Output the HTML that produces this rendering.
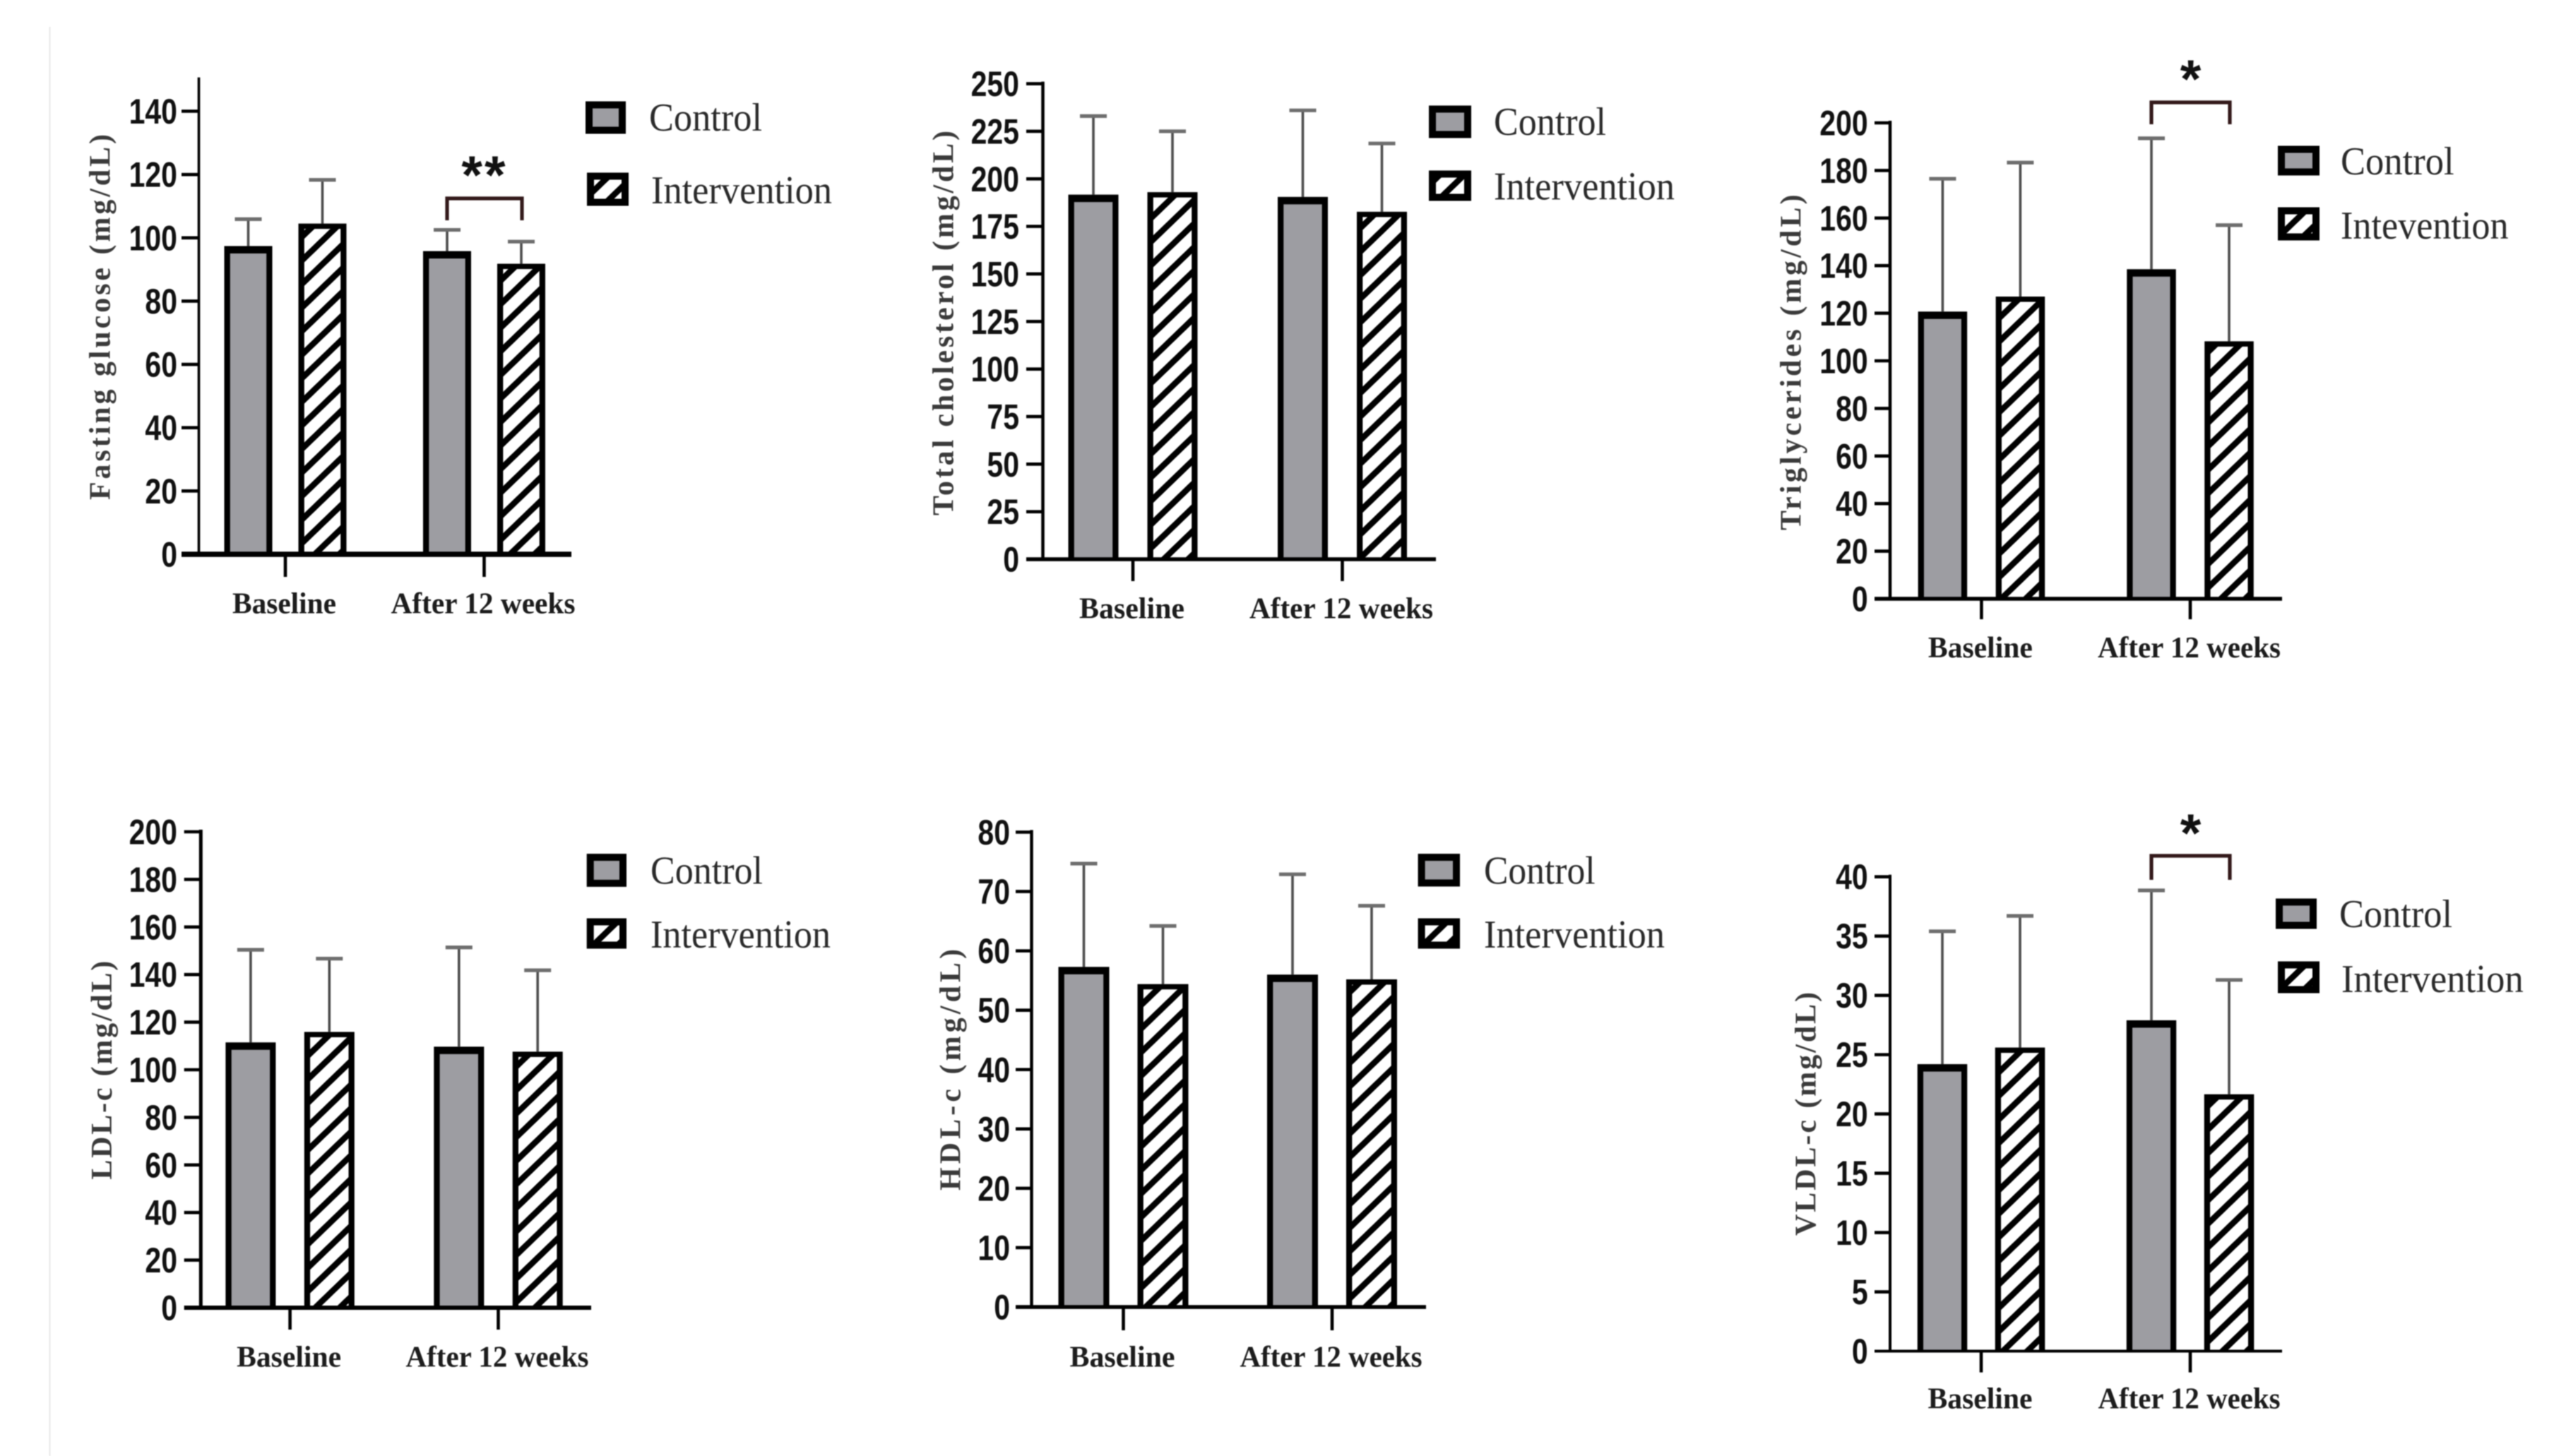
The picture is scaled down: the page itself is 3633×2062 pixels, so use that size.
<!DOCTYPE html>
<html lang="en">
<head>
<meta charset="utf-8">
<title>Biochemical outcomes: control vs intervention</title>
<style>
html,body{margin:0;padding:0;background:#fff;}
#figure{display:block;width:3633px;height:2062px;filter:blur(0.9px);}
</style>
</head>
<body>
<svg id="figure" xmlns="http://www.w3.org/2000/svg" width="3633" height="2062" viewBox="0 0 3633 2062">
  <defs>
    <pattern id="hatch" patternUnits="userSpaceOnUse" width="24" height="24" patternTransform="rotate(46) translate(6 0)">
      <rect x="0" y="0" width="24" height="24" fill="#ffffff"></rect>
      <rect x="0" y="0" width="8.5" height="24" fill="#000000"></rect>
    </pattern>
  </defs>
  <rect x="0" y="0" width="3633" height="2062" fill="#ffffff"></rect>
  <line x1="70.5" y1="38" x2="70.5" y2="2062" stroke="#e2e2e2" stroke-width="1.6"></line>
</svg>
<script>
const timepoints = ['Baseline', 'After 12 weeks'];

const glucoseTicks = [0, 20, 40, 60, 80, 100, 120, 140];
const glucoseControl = [97.4, 95.8];
const glucoseIntervention = [104.5, 91.8];
const glucoseControlUpper = [105.9, 102.5];
const glucoseInterventionUpper = [118.3, 98.8];

const cholesterolTicks = [0, 25, 50, 75, 100, 125, 150, 175, 200, 225, 250];
const cholesterolControl = [191.7, 190.5];
const cholesterolIntervention = [193, 182.7];
const cholesterolControlUpper = [233, 236];
const cholesterolInterventionUpper = [225, 218.6];

const triglycerideTicks = [0, 20, 40, 60, 80, 100, 120, 140, 160, 180, 200];
const triglycerideControl = [120.7, 138.5];
const triglycerideIntervention = [127, 108.2];
const triglycerideControlUpper = [176.5, 193.5];
const triglycerideInterventionUpper = [183.3, 157];

const ldlTicks = [0, 20, 40, 60, 80, 100, 120, 140, 160, 180, 200];
const ldlControl = [111.5, 109.7];
const ldlIntervention = [115.9, 107.6];
const ldlControlUpper = [150.4, 151.4];
const ldlInterventionUpper = [146.7, 141.8];

const hdlTicks = [0, 10, 20, 30, 40, 50, 60, 70, 80];
const hdlControl = [57.3, 56];
const hdlIntervention = [54.4, 55.2];
const hdlControlUpper = [74.7, 72.9];
const hdlInterventionUpper = [64.2, 67.6];

const vldlTicks = [0, 5, 10, 15, 20, 25, 30, 35, 40];
const vldlControl = [24.2, 27.9];
const vldlIntervention = [25.6, 21.66];
const vldlControlUpper = [35.4, 38.85];
const vldlInterventionUpper = [36.7, 31.3];

const panels = [
  { key: 'fasting-glucose', title: 'Fasting glucose (mg/dL)', ticks: glucoseTicks, control: glucoseControl, intervention: glucoseIntervention, controlUpper: glucoseControlUpper, interventionUpper: glucoseInterventionUpper, interventionName: 'Intervention',
    axisX: 281.5, axisW: 3.6, baseY: 785, baseW: 7.5, topTickY: 157.5, axisMaxValue: 150, left: 257, right: 809, groupX: [404, 685.5], offset: 52.5, barW: 68, tickBottom: 817, labelRight: 251, labelBaseline: 868.6, baselineW: 147, afterW: 261,
    titleX: 155.5, titleTop: 190, titleBottom: 708, titleSize: 42,
    legend: { s1: [829, 886, 143, 190], s2: [831, 890, 244, 292], t1: [919, 160, 185], t2: [922, 256, 288] },
    sig: { mark: '**', top: 281, bottom: 312, y: 274 } },
  { key: 'total-cholesterol', title: 'Total cholesterol (mg/dL)', ticks: cholesterolTicks, control: cholesterolControl, intervention: cholesterolIntervention, controlUpper: cholesterolControlUpper, interventionUpper: cholesterolInterventionUpper, interventionName: 'Intervention',
    axisX: 1476.5, axisW: 4.5, baseY: 792, baseW: 5.5, topTickY: 118.6, left: 1453, right: 2033, groupX: [1604, 1900.5], offset: 56, barW: 71, tickBottom: 823, labelRight: 1443, labelBaseline: 875.6, baselineW: 149, afterW: 260,
    titleX: 1349.5, titleTop: 185, titleBottom: 730, titleSize: 42,
    legend: { s1: [2023, 2083, 149, 196], s2: [2023, 2083, 241, 285], t1: [2115, 159, 191], t2: [2115, 256, 282.5] } },
  { key: 'triglycerides', title: 'Triglycerides (mg/dL)', ticks: triglycerideTicks, control: triglycerideControl, intervention: triglycerideIntervention, controlUpper: triglycerideControlUpper, interventionUpper: triglycerideInterventionUpper, interventionName: 'Intevention',
    axisX: 2676, axisW: 4.5, baseY: 848, baseW: 5.5, topTickY: 174, left: 2654, right: 3231, groupX: [2805.4, 3101], offset: 55, barW: 69.5, tickBottom: 877, labelRight: 2644.7, labelBaseline: 931, baselineW: 148, afterW: 259,
    titleX: 2549.6, titleTop: 275.5, titleBottom: 751, titleSize: 42,
    legend: { s1: [3225, 3284, 206, 249], s2: [3225, 3284, 293, 341], t1: [3314, 160.6, 247], t2: [3314, 237.6, 338] },
    sig: { mark: '*', top: 145, bottom: 176, y: 138 } },
  { key: 'ldl-c', title: 'LDL-c (mg/dL)', ticks: ldlTicks, control: ldlControl, intervention: ldlIntervention, controlUpper: ldlControlUpper, interventionUpper: ldlInterventionUpper, interventionName: 'Intervention',
    axisX: 284.3, axisW: 5, baseY: 1852, baseW: 6, topTickY: 1178, left: 260.7, right: 837, groupX: [410.6, 705.5], offset: 55.7, barW: 71, tickBottom: 1883, labelRight: 251, labelBaseline: 1935.6, baselineW: 148, afterW: 259,
    titleX: 158, titleTop: 1360.7, titleBottom: 1670.6, titleSize: 42,
    legend: { s1: [830.7, 887, 1208.6, 1256.4], s2: [830.7, 887, 1300, 1344], t1: [921, 159, 1251.5], t2: [921, 255, 1342] } },
  { key: 'hdl-c', title: 'HDL-c  (mg/dL)', ticks: hdlTicks, control: hdlControl, intervention: hdlIntervention, controlUpper: hdlControlUpper, interventionUpper: hdlInterventionUpper, interventionName: 'Intervention',
    axisX: 1460.5, axisW: 4.5, baseY: 1851, baseW: 5.5, topTickY: 1178.5, left: 1438, right: 2019, groupX: [1590.5, 1886], offset: 56, barW: 72, tickBottom: 1884, labelRight: 1430, labelBaseline: 1935.6, baselineW: 149, afterW: 258,
    titleX: 1359.4, titleTop: 1344, titleBottom: 1686, titleSize: 42,
    legend: { s1: [2007.6, 2067, 1208.6, 1256], s2: [2007.6, 2067, 1300, 1344], t1: [2101, 157.6, 1251.5], t2: [2101, 256, 1342] } },
  { key: 'vldl-c', title: 'VLDL-c (mg/dL)', ticks: vldlTicks, control: vldlControl, intervention: vldlIntervention, controlUpper: vldlControlUpper, interventionUpper: vldlInterventionUpper, interventionName: 'Intervention',
    axisX: 2676, axisW: 4, baseY: 1913.5, baseW: 4, topTickY: 1241.7, left: 2654, right: 3231, groupX: [2805, 3101], offset: 55, barW: 70.5, tickBottom: 1943.6, labelRight: 2644.7, labelBaseline: 1994.5, baselineW: 148, afterW: 258,
    titleX: 2570.7, titleTop: 1405, titleBottom: 1750, titleSize: 42,
    legend: { s1: [3222, 3280, 1272, 1316], s2: [3225, 3284, 1361, 1407], t1: [3312, 160, 1313], t2: [3315, 257.7, 1405] },
    sig: { mark: '*', top: 1212, bottom: 1246, y: 1206 } }
];

const SVG_NS = 'http://www.w3.org/2000/svg';
const root = document.getElementById('figure');
const SANS = '"Liberation Sans", sans-serif';
const SERIF = '"Liberation Serif", serif';

function add(parent, tag, attrs, text) {
  const el = document.createElementNS(SVG_NS, tag);
  for (const k in attrs) el.setAttribute(k, attrs[k]);
  if (text !== undefined) el.textContent = text;
  parent.appendChild(el);
  return el;
}

function drawBar(group, p, seriesName, value, upper, cx, yScale, elName) {
  const w = p.barW;
  const top = yScale(value);
  const side = 8.3;
  const roof = seriesName === 'control' ? 10.5 : 7.5;
  const stem = add(group, 'line', { x1: cx, x2: cx, y1: top, y2: yScale(upper), stroke: '#4d4d4d', 'stroke-width': 3.6 });
  
  
  const cap = add(group, 'line', { x1: cx - 19, x2: cx + 19, y1: yScale(upper), y2: yScale(upper), stroke: '#6e6e6e', 'stroke-width': 5.2 });
  
  
  const outline = add(group, 'rect', { x: cx - w / 2, y: top, width: w, height: Math.max(0, p.baseY - top), fill: '#000000' });
  
  
  const fill = seriesName === 'control' ? '#9d9da2' : 'url(#hatch)';
  const bar = add(group, 'rect', { x: cx - w / 2 + side, y: top + roof, width: w - 2 * side, height: Math.max(0, p.baseY - top - roof), fill: fill });
  
  
}

function drawPanel(p) {
  const maxTick = p.ticks[p.ticks.length - 1];
  const yScale = function (v) { return p.baseY - v * (p.baseY - p.topTickY) / maxTick; };
  const xBar = function (g, s) { return p.groupX[g] + (s === 0 ? -p.offset : p.offset); };

  const g = add(root, 'g', {});
  
  

  // bars and error bars
  for (let i = 0; i < timepoints.length; i++) {
    drawBar(g, p, 'control', p.control[i], p.controlUpper[i], xBar(i, 0), yScale, p.key + '-control-bar-' + (i + 1));
    drawBar(g, p, 'intervention', p.intervention[i], p.interventionUpper[i], xBar(i, 1), yScale, p.key + '-intervention-bar-' + (i + 1));
  }

  // y axis
  const axisTopValue = p.axisMaxValue || maxTick;
  const yAxis = add(g, 'line', { x1: p.axisX, x2: p.axisX, y1: yScale(axisTopValue) - 3, y2: p.baseY, stroke: '#000000', 'stroke-width': p.axisW });
  
  

  p.ticks.forEach(function (t) {
    const ty = yScale(t);
    if (t !== 0) {
      const mark = add(g, 'line', { x1: p.left, x2: p.axisX, y1: ty, y2: ty, stroke: '#000000', 'stroke-width': 4.6 });
      
      
    }
    const s = String(t);
    const len = s.length * 22.8;
    const label = add(g, 'text', { x: p.labelRight - len, y: ty + 17.5, 'font-family': SANS, 'font-weight': 'bold', 'font-size': 50, fill: '#111111', textLength: len, lengthAdjust: 'spacingAndGlyphs' }, s);
    
    
  });

  // x axis
  const xAxis = add(g, 'line', { x1: p.left, x2: p.right, y1: p.baseY, y2: p.baseY, stroke: '#000000', 'stroke-width': p.baseW });
  
  

  timepoints.forEach(function (name, i) {
    const tk = add(g, 'line', { x1: p.groupX[i], x2: p.groupX[i], y1: p.baseY, y2: p.tickBottom, stroke: '#000000', 'stroke-width': 4.6 });
    
    
    const w = i === 0 ? p.baselineW : p.afterW;
    const lb = add(g, 'text', { x: p.groupX[i] - w / 2 - 1.5, y: p.labelBaseline, 'font-family': SERIF, 'font-weight': 'bold', 'font-size': 42, fill: '#1c1c1c', textLength: w, lengthAdjust: 'spacingAndGlyphs' }, name);
    
    
  });

  // y title
  const titleLen = p.titleBottom - p.titleTop;
  const title = add(g, 'text', { transform: 'translate(' + p.titleX + ' ' + p.titleBottom + ') rotate(-90)', x: 0, y: 0, 'font-family': SERIF, 'font-weight': 'bold', 'font-size': p.titleSize, fill: '#3a3a3a', textLength: titleLen, lengthAdjust: 'spacing' }, p.title);
  
  

  // legend
  const L = p.legend;
  const sw1 = add(g, 'rect', { x: L.s1[0] + 5, y: L.s1[2] + 5.5, width: L.s1[1] - L.s1[0] - 10, height: L.s1[3] - L.s1[2] - 11, fill: '#9d9da2', stroke: '#000000', 'stroke-width': 10 });
  
  
  const tx1 = add(g, 'text', { x: L.t1[0], y: L.t1[2], 'font-family': SERIF, 'font-size': 56, fill: '#2a2a2a', textLength: L.t1[1], lengthAdjust: 'spacingAndGlyphs' }, 'Control');
  
  
  const sw2 = add(g, 'rect', { x: L.s2[0] + 5, y: L.s2[2] + 5.5, width: L.s2[1] - L.s2[0] - 10, height: L.s2[3] - L.s2[2] - 11, fill: 'url(#hatch)', stroke: '#000000', 'stroke-width': 10 });
  
  
  const tx2 = add(g, 'text', { x: L.t2[0], y: L.t2[2], 'font-family': SERIF, 'font-size': 56, fill: '#2a2a2a', textLength: L.t2[1], lengthAdjust: 'spacingAndGlyphs' }, p.interventionName);
  
  

  // significance bracket
  if (p.sig) {
    const xa = xBar(1, 0);
    const xb = xBar(1, 1) + 1;
    const br = add(g, 'path', { d: 'M' + xa + ' ' + p.sig.bottom + 'V' + p.sig.top + 'H' + xb + 'V' + p.sig.bottom, fill: 'none', stroke: '#33191a', 'stroke-width': 5.2 });
    
    
    const star = add(g, 'text', { x: (xa + xb) / 2, y: p.sig.y, 'text-anchor': 'middle', 'font-family': SANS, 'font-weight': 'bold', 'font-size': 76, fill: '#111111', 'letter-spacing': p.sig.mark.length > 1 ? 3 : 0 }, p.sig.mark);
    
    
  }
}

panels.forEach(drawPanel);
</script>
</body>
</html>
